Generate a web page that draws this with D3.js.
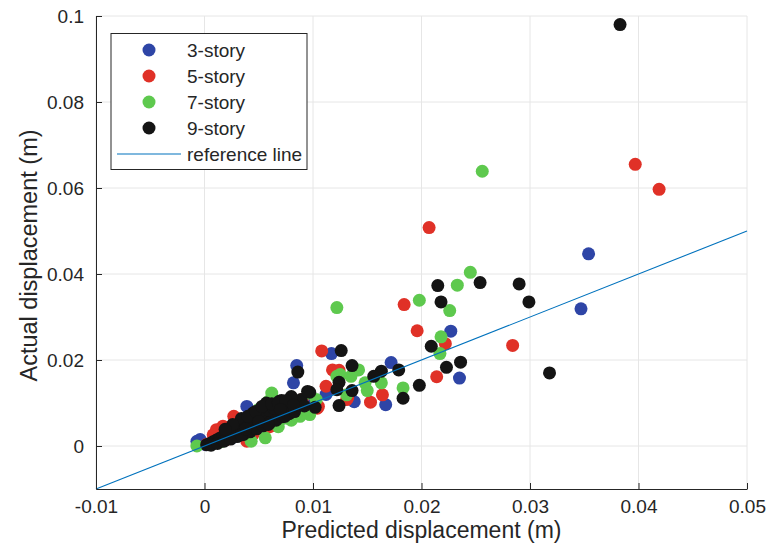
<!DOCTYPE html>
<html lang="en">
  <head>
    <meta charset="UTF-8" />
    <title>Predicted vs actual displacement</title>
    <script src="https://cdn.jsdelivr.net/npm/d3@7"></script>
    <style>
      body { margin: 0; background: #fff; }
      text { font-family: "Liberation Sans", Arial, Helvetica, sans-serif; fill: #262626; }
    </style>
  </head>
  <body>
    <div id='app'></div>
    <script>
  // [predicted, actual] in metres
  const story3 = [
    [0.0354, 0.0447], [0.0347, 0.0319], [0.0227, 0.0267], [0.0235, 0.0158], [0.0172, 0.0194],
    [0.0167, 0.0096], [0.0138, 0.0103], [0.0117, 0.0215], [0.0085, 0.0187], [0.0082, 0.0147],
    [0.0039, 0.0092], [-0.0004, 0.0015], [-0.0007, 0.0011], [0.0001, 0.0003], [0.0010, 0.0012],
    [0.0020, 0.0024], [0.0030, 0.0036], [0.0045, 0.0052], [0.0060, 0.0070], [0.0070, 0.0062],
    [0.0025, 0.0018], [0.0050, 0.0040], [0.0098, 0.0104], [0.0112, 0.0120]
  ]
  const story5 = [
    [0.0397, 0.0655], [0.0419, 0.0597], [0.0207, 0.0508], [0.0284, 0.0234], [0.0184, 0.0329],
    [0.0196, 0.0268], [0.0222, 0.0238], [0.0214, 0.0161], [0.0108, 0.0221], [0.0118, 0.0177],
    [0.0124, 0.0176], [0.0112, 0.0139], [0.0131, 0.0108], [0.0153, 0.0102], [0.0164, 0.0119],
    [0.0105, 0.0092], [0.0104, 0.0088], [0.0090, 0.0108], [0.0132, 0.0112], [0.0011, 0.0038],
    [0.0039, 0.0011], [0.0008, 0.0026], [0.0027, 0.0069], [0.0017, 0.0046], [0.0045, 0.0028],
    [0.0060, 0.0045], [0.0072, 0.0080], [0.0020, 0.0015], [0.0002, 0.0004], [0.0052, 0.0075],
    [0.0088, 0.0098]
  ]
  const story7 = [
    [0.0256, 0.0639], [0.0245, 0.0404], [0.0233, 0.0374], [0.0198, 0.0339], [0.0226, 0.0315],
    [0.0122, 0.0322], [0.0218, 0.0254], [0.0217, 0.0215], [0.0142, 0.0177], [0.0125, 0.0166],
    [0.0122, 0.0162], [0.0135, 0.0162], [0.0163, 0.0147], [0.0148, 0.0147], [0.0150, 0.0129],
    [0.0183, 0.0135], [0.0131, 0.0119], [0.0103, 0.0108], [0.0096, 0.0123], [0.0088, 0.0084],
    [0.0075, 0.0084], [0.0097, 0.0073], [0.0088, 0.0069], [0.0085, 0.0077], [0.0075, 0.0065],
    [0.0062, 0.0123], [0.0059, 0.0104], [0.0056, 0.0019], [0.0043, 0.0011], [-0.0007, 0.0000],
    [0.0065, 0.0055], [0.0040, 0.0030], [0.0030, 0.0048], [0.0070, 0.0095], [0.0015, 0.0010],
    [0.0050, 0.0085], [0.0080, 0.0060], [0.0020, 0.0032], [0.0080, 0.0100], [0.0068, 0.0045],
    [0.0093, 0.0085]
  ]
  const story9 = [
    [0.0383, 0.0980], [0.0290, 0.0377], [0.0299, 0.0335], [0.0254, 0.0380], [0.0215, 0.0373],
    [0.0218, 0.0335], [0.0209, 0.0232], [0.0236, 0.0195], [0.0223, 0.0183], [0.0198, 0.0141],
    [0.0318, 0.0170], [0.0126, 0.0222], [0.0136, 0.0187], [0.0179, 0.0177], [0.0163, 0.0174],
    [0.0156, 0.0162], [0.0124, 0.0148], [0.0122, 0.0131], [0.0136, 0.0129], [0.0183, 0.0111],
    [0.0124, 0.0094], [0.0102, 0.0090], [0.0097, 0.0125], [0.0089, 0.0108], [0.0086, 0.0172],
    [0.0095, 0.0127], [0.0080, 0.0115], [0.0071, 0.0106], [0.0069, 0.0104], [0.0057, 0.0100],
    [0.0045, 0.0077], [0.0054, 0.0065], [0.0002, 0.0003], [0.0005, 0.0006], [0.0008, 0.0010],
    [0.0011, 0.0014], [0.0014, 0.0018], [0.0017, 0.0022], [0.0020, 0.0026], [0.0023, 0.0030],
    [0.0026, 0.0034], [0.0029, 0.0039], [0.0032, 0.0043], [0.0035, 0.0047], [0.0038, 0.0052],
    [0.0041, 0.0057], [0.0044, 0.0060], [0.0048, 0.0066], [0.0052, 0.0071], [0.0056, 0.0077],
    [0.0060, 0.0082], [0.0064, 0.0088], [0.0006, 0.0002], [0.0012, 0.0006], [0.0018, 0.0011],
    [0.0024, 0.0016], [0.0030, 0.0022], [0.0036, 0.0027], [0.0042, 0.0033], [0.0048, 0.0040],
    [0.0054, 0.0047], [0.0060, 0.0054], [0.0066, 0.0060], [0.0072, 0.0068], [0.0078, 0.0075],
    [0.0076, 0.0092], [0.0034, 0.0064], [0.0026, 0.0050], [0.0019, 0.0039], [0.0040, 0.0069],
    [0.0047, 0.0080], [0.0053, 0.0092], [0.0062, 0.0098], [0.0068, 0.0101], [0.0075, 0.0105],
    [0.0034, 0.0026], [0.0059, 0.0050], [0.0074, 0.0069], [0.0083, 0.0080], [0.0092, 0.0093],
    [0.0082, 0.0095], [0.0070, 0.0085], [0.0050, 0.0057], [0.0038, 0.0040]
  ]

  const seriesNames = ['3-story', '5-story', '7-story', '9-story']
  const seriesColors = ['#2e45a6', '#e03127', '#5ec94e', '#141414']
  const refLine = [[-0.01, -0.01], [0.05, 0.05]]

  const xTicks = [-0.01, 0, 0.01, 0.02, 0.03, 0.04, 0.05]
  const yTicks = [0, 0.02, 0.04, 0.06, 0.08, 0.1]

  const width = 768, height = 546
  const margin = { top: 16, right: 21, bottom: 57, left: 96 }
  const innerW = width - margin.left - margin.right
  const innerH = height - margin.top - margin.bottom

  const svg = d3.select('#app').append('svg')
    .attr('width', width)
    .attr('height', height)

  const g = svg.append('g')
    .attr('transform', `translate(${margin.left},${margin.top})`)

  const x = d3.scaleLinear().domain([-0.01, 0.05]).range([0, innerW])
  const y = d3.scaleLinear().domain([-0.01, 0.1]).range([innerH, 0])

  // plain hyphen for negatives, like the original figure
  const fmt = d => d3.format('~g')(d).replace('\u2212', '-')

  // grid
  g.append('g').selectAll('line').data(xTicks).join('line')
    .attr('x1', d => x(d)).attr('x2', d => x(d))
    .attr('y1', 0).attr('y2', innerH)
    .attr('stroke', '#e6e6e6').attr('stroke-width', 1)
  g.append('g').selectAll('line').data(yTicks).join('line')
    .attr('x1', 0).attr('x2', innerW)
    .attr('y1', d => y(d)).attr('y2', d => y(d))
    .attr('stroke', '#e6e6e6').attr('stroke-width', 1)

  // points, 3-story first so 9-story ends on top
  const allSeries = [story3, story5, story7, story9]
  allSeries.forEach((pts, i) => {
    g.append('g').selectAll('circle').data(pts).join('circle')
      .attr('cx', d => x(d[0]))
      .attr('cy', d => y(d[1]))
      .attr('r', 6.5)
      .attr('fill', seriesColors[i])
  })

  // reference line
  g.append('path')
    .datum(refLine)
    .attr('d', d3.line().x(d => x(d[0])).y(d => y(d[1])))
    .attr('stroke', '#0072bd')
    .attr('stroke-width', 1.1)
    .attr('fill', 'none')

  // axes (inward ticks)
  const xAxis = g.append('g')
    .attr('transform', `translate(0,${innerH})`)
    .call(d3.axisBottom(x).tickValues(xTicks).tickSizeInner(-6).tickSizeOuter(0).tickPadding(12)
      .tickFormat(fmt))
  const yAxis = g.append('g')
    .call(d3.axisLeft(y).tickValues(yTicks).tickSizeInner(-6).tickSizeOuter(0).tickPadding(12)
      .tickFormat(fmt))

  ;[xAxis, yAxis].forEach(a => {
    a.select('.domain').attr('stroke', '#262626').attr('stroke-width', 1)
    a.selectAll('.tick line').attr('stroke', '#262626')
    a.selectAll('.tick text')
      .attr('font-family', '"Liberation Sans", Arial, sans-serif')
      .attr('font-size', 19)
      .attr('fill', '#262626')
  })
  xAxis.selectAll('.tick text').attr('dy', '0.75em').attr('y', 10)

  // axis titles
  svg.append('text')
    .attr('x', margin.left + innerW / 2)
    .attr('y', 538)
    .attr('text-anchor', 'middle')
    .attr('font-size', 23)
    .text('Predicted displacement (m)')
  svg.append('text')
    .attr('transform', `translate(37,${margin.top + innerH / 2 + 3}) rotate(-90)`)
    .attr('text-anchor', 'middle')
    .attr('font-size', 23.5)
    .text('Actual displacement (m)')

  // legend
  const legend = svg.append('g').attr('transform', 'translate(111,33.5)')
  legend.append('rect')
    .attr('width', 196).attr('height', 136)
    .attr('fill', '#fff').attr('stroke', '#262626').attr('stroke-width', 1)
  seriesNames.forEach((name, i) => {
    const ly = 16.5 + i * 26
    legend.append('circle').attr('cx', 38).attr('cy', ly).attr('r', 6.5).attr('fill', seriesColors[i])
    legend.append('text').attr('x', 76).attr('y', ly).attr('dy', '0.35em')
      .attr('font-size', 19).text(name)
  })
  const refY = 16.5 + 4 * 26
  legend.append('line').attr('x1', 6).attr('x2', 70).attr('y1', refY).attr('y2', refY)
    .attr('stroke', '#0072bd').attr('stroke-width', 1.1)
  legend.append('text').attr('x', 76).attr('y', refY).attr('dy', '0.35em')
    .attr('font-size', 19).text('reference line')
    </script>
  </body>
</html>
